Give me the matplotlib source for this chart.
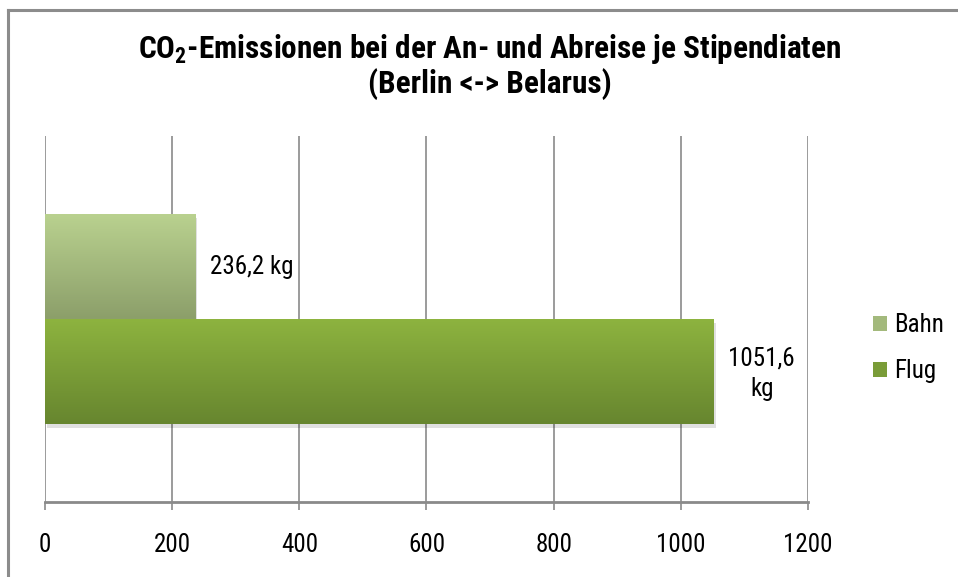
import numpy as np
import matplotlib
matplotlib.use("Agg")
import matplotlib.pyplot as plt
from matplotlib.colors import LinearSegmentedColormap
from matplotlib.lines import Line2D
from matplotlib.patches import Patch
from matplotlib import font_manager

# daten
categories = ["Bahn", "Flug"]
values = [236.2, 1051.6]
labels = ["236,2 kg", "1051,6\nkg"]
xticks = [0, 200, 400, 600, 800, 1000, 1200]

# schrift: schmale serifenlose mit fettem schnitt, falls vorhanden
weights = {}
for f in font_manager.fontManager.ttflist:
    w = f.weight if isinstance(f.weight, int) else 400
    weights.setdefault(f.name, set()).add(w)
cands = ["Liberation Sans Narrow", "Arial Narrow", "Roboto Condensed", "Archivo Narrow",
         "PT Sans Narrow", "Fira Sans Condensed", "IBM Plex Sans Condensed",
         "Encode Sans Condensed", "Asap Condensed", "Pragati Narrow"]
fam = "Liberation Sans"
for c in cands:
    if c in weights and any(w >= 600 for w in weights[c]):
        fam = c
        break
plt.rcParams["font.family"] = [fam, "DejaVu Sans"]
plt.rcParams["mathtext.fontset"] = "custom"
plt.rcParams["mathtext.rm"] = fam + ":bold"
plt.rcParams["mathtext.default"] = "rm"

grad_colors = [("#b9d18f", "#8c9f6a"), ("#8db33f", "#67862f")]
grid_col = "#8a8a8a"

fig = plt.figure(figsize=(9.58, 5.77), dpi=100)
ax = fig.add_axes([45 / 958, 75 / 577, 763 / 958, 366 / 577])

ypos = [0.5, -0.5]
bars = ax.barh(ypos, values, height=1.0, color="none", zorder=3)

# schatten + farbverlauf
for i, b in enumerate(bars):
    x0, y0 = b.get_x(), b.get_y()
    w, h = b.get_width(), b.get_height()
    ax.add_patch(plt.Rectangle((x0 + 3, y0 - 0.04), w, h, color="#000000",
                               alpha=0.12, lw=0, zorder=2))
    cmap = LinearSegmentedColormap.from_list("g%d" % i, [grad_colors[i][1], grad_colors[i][0]])
    grad = np.linspace(0, 1, 100).reshape(-1, 1)
    im = ax.imshow(grad, cmap=cmap, aspect="auto", origin="lower",
                   extent=[x0, x0 + w, y0, y0 + h], zorder=3)
    im.set_clip_path(b)

# beschriftungen
ax.annotate(labels[0], (values[0], ypos[0]), xytext=(15, 0), textcoords="offset pixels",
            ha="left", va="center", fontsize=18, zorder=5)
ax.annotate(labels[1], (values[1], ypos[1]), xytext=(48, -2), textcoords="offset pixels",
            ha="center", va="center", fontsize=18, linespacing=1.35, zorder=5)

ax.set_xlim(0, 1200)
ax.set_ylim(-1.743, 1.743)
ax.set_xticks(xticks)
ax.set_xticklabels([str(t) for t in xticks], fontsize=18)
ax.set_yticks([])
ax.grid(axis="x", color=grid_col, lw=1.2, zorder=1)
for s in ["top", "right", "left"]:
    ax.spines[s].set_visible(False)
ax.spines["bottom"].set_color(grid_col)
ax.spines["bottom"].set_linewidth(2)
ax.tick_params(axis="x", length=6, color=grid_col, width=1.2, pad=16)

# legende
handles = [Patch(facecolor=c, edgecolor="none") for c in ["#a3b97c", "#7a9c38"]]
fig.legend(handles, categories, loc="center left", bbox_to_anchor=(873 / 958, 1 - 348 / 577),
           frameon=False, fontsize=18, handlelength=0.55, handleheight=0.55,
           handletextpad=0.3, labelspacing=0.88, borderpad=0, borderaxespad=0)

# titel
fig.text(490 / 958, 1 - 66 / 577,
         "CO$_2$-Emissionen bei der An- und Abreise je Stipendiaten\n(Berlin <-> Belarus)",
         ha="center", va="center", fontsize=22.5, fontweight="bold", linespacing=1.08)

# rahmen
fig.add_artist(Line2D([8 / 958, 1], [1 - 9.5 / 577, 1 - 9.5 / 577], color="#8c8c8c", lw=2.2))
fig.add_artist(Line2D([8 / 958, 8 / 958], [0, 1 - 9.5 / 577], color="#8c8c8c", lw=2.2))

fig.savefig("out.png", dpi=100, facecolor="white")
